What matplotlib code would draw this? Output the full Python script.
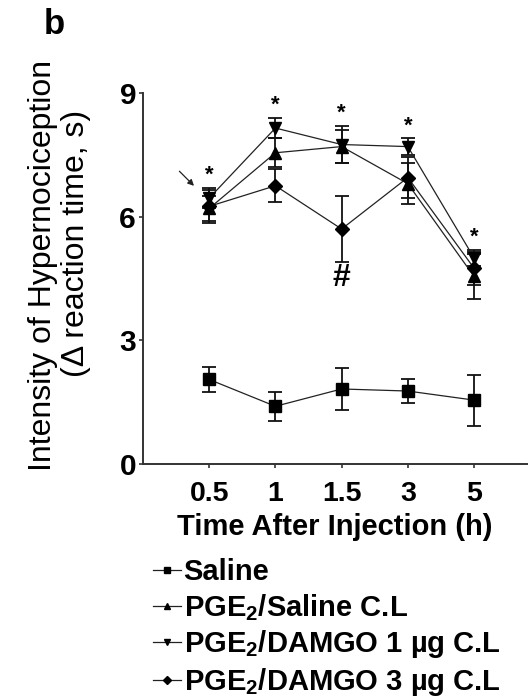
import matplotlib
matplotlib.use("Agg")
import matplotlib.pyplot as plt
from matplotlib.lines import Line2D

plt.rcParams['font.family'] = ['Liberation Sans', 'DejaVu Sans']
plt.rcParams['mathtext.fontset'] = 'custom'
plt.rcParams['mathtext.rm'] = 'Liberation Sans:bold'
plt.rcParams['mathtext.default'] = 'rm'

# Time points after injection (h)
times = ['0.5', '1', '1.5', '3', '5']

# Group means and SEM (delta reaction time, s)
saline_mean = [2.05, 1.40, 1.82, 1.77, 1.55]
saline_sem = [0.30, 0.35, 0.50, 0.30, 0.62]

pge_saline_mean = [6.20, 7.55, 7.70, 6.80, 4.55]
pge_saline_sem = [0.30, 0.35, 0.40, 0.50, 0.55]

damgo1_mean = [6.45, 8.15, 7.75, 7.70, 5.00]
damgo1_sem = [0.25, 0.25, 0.45, 0.20, 0.20]

damgo3_mean = [6.25, 6.75, 5.70, 6.95, 4.75]
damgo3_sem = [0.40, 0.40, 0.80, 0.50, 0.40]

labels = ['Saline', 'PGE$_2$/Saline C.L',
          'PGE$_2$/DAMGO 1 \u00b5g C.L', 'PGE$_2$/DAMGO 3 \u00b5g C.L']

fig = plt.figure(figsize=(5.29, 6.98), dpi=100)
ax = fig.add_axes([143 / 529, 1 - 464 / 698, 384 / 529, 371 / 698])

x = list(range(1, len(times) + 1))
series = [
    (saline_mean, saline_sem, 's', 8.5),
    (pge_saline_mean, pge_saline_sem, '^', 9),
    (damgo1_mean, damgo1_sem, 'v', 9),
    (damgo3_mean, damgo3_sem, 'D', 7),
]

handles = []
for (m, e, mk, ms), lab in zip(series, labels):
    ax.errorbar(x, m, yerr=e, fmt='none', ecolor='#111111', elinewidth=1.3,
                capsize=5, capthick=1.3, zorder=2)
    ax.plot(x, m, color='#222222', lw=0.9, zorder=3)
    ax.plot(x, m, ls='none', marker=mk, ms=ms, color='black', zorder=4)
    handles.append(Line2D([], [], color='#222222', lw=0.9, marker=mk,
                          ms=ms * 0.55, mfc='black', mec='black', label=lab))

# significance marks above each time point
tops = [max(m[i] + e[i] for m, e, _, _ in series[1:]) for i in range(len(times))]
for xi, t in zip(x, tops):
    ax.text(xi, t + 0.30, '*', ha='center', va='center', fontsize=16,
            fontweight='bold')
ax.text(3, 4.5, '#', ha='center', va='center', fontsize=23, fontweight='bold')

# arrow pointing at the first time point
ax.annotate('', xy=(0.80, 6.70), xytext=(0.52, 7.15),
            arrowprops=dict(arrowstyle='-|>', color='#222222', lw=0.9,
                            mutation_scale=9))

ax.set_xlim(0, 5.8)
ax.set_ylim(0, 9)
ax.set_xticks(x)
ax.set_xticklabels(times, fontsize=20.5, fontweight='bold')
ax.set_yticks([0, 3, 6, 9])
ax.set_yticklabels(['0', '3', '6', '9'], fontsize=21.5, fontweight='bold')
for s in ['top', 'right']:
    ax.spines[s].set_visible(False)
for s in ['left', 'bottom']:
    ax.spines[s].set_linewidth(1.4)
    ax.spines[s].set_color('#333333')
ax.tick_params(length=3, width=1.2, color='#333333')
ax.tick_params(axis='x', pad=9.5)
ax.tick_params(axis='y', pad=2)
ax.set_xlabel('Time After Injection (h)', fontsize=21, fontweight='bold',
              labelpad=4)

fig.text(43 / 529, 1 - 265 / 698, 'Intensity of Hypernociception',
         rotation=90, ha='center', va='center', fontsize=23)
fig.text(76 / 529, 1 - 243 / 698, '(\u0394 reaction time, s)',
         rotation=90, ha='center', va='center', fontsize=23)
fig.text(54 / 529, 1 - 24 / 698, 'b', ha='center', va='center', fontsize=25,
         fontweight='bold')

fig.legend(handles=handles, loc='upper left',
           bbox_to_anchor=(153 / 529, 1 - 558 / 698), frameon=False,
           prop={'weight': 'bold', 'size': 21}, handlelength=0.95,
           handletextpad=0.1, labelspacing=0.2, borderpad=0,
           borderaxespad=0)

fig.savefig('out.png', dpi=100)
